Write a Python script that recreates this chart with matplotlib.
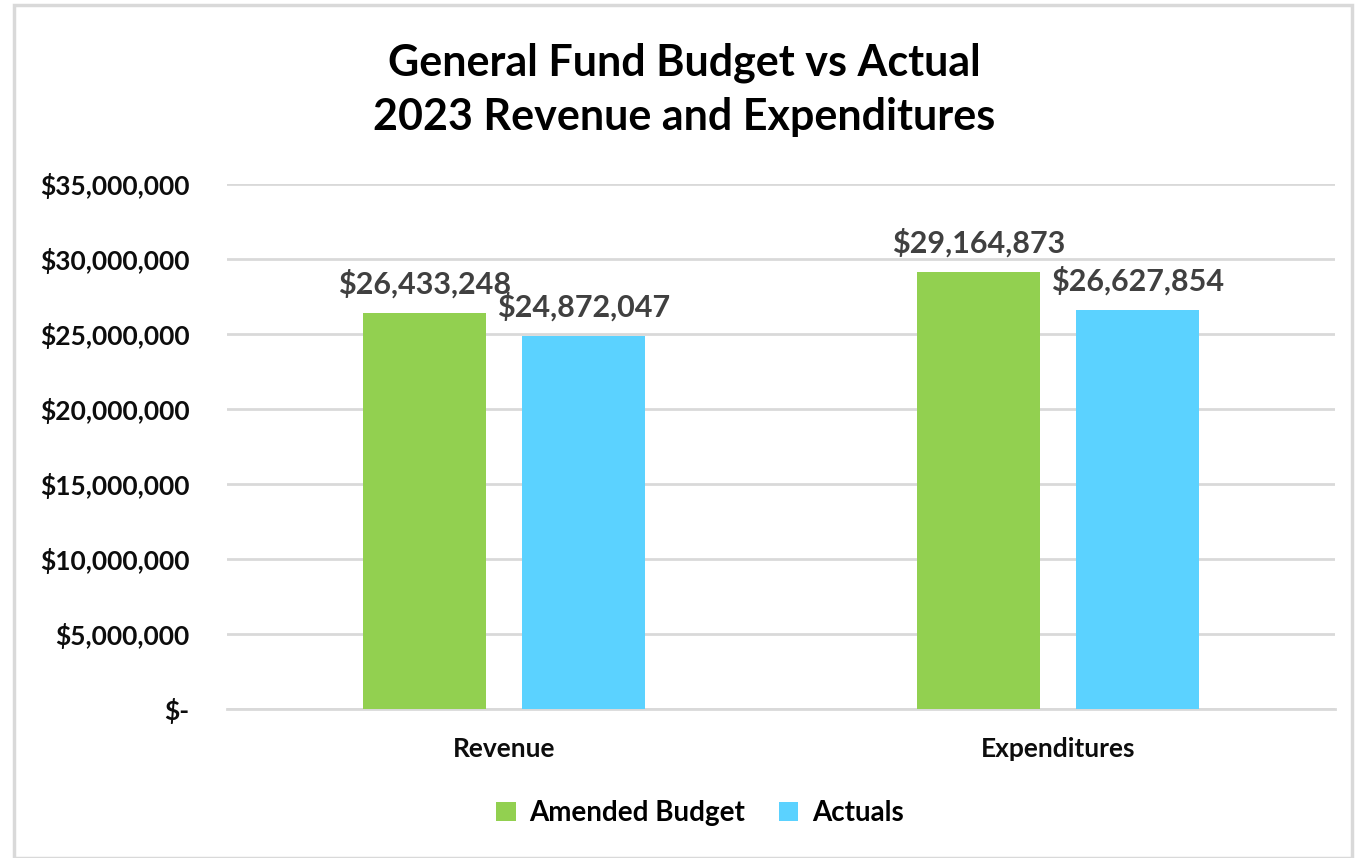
import matplotlib.pyplot as plt
import numpy as np
from matplotlib.patches import Rectangle

categories = ['Revenue', 'Expenditures']
budget = [26433248, 29164873]
actuals = [24872047, 26627854]
series_names = ['Amended Budget', 'Actuals']

plt.rcParams['font.family'] = ['Lato', 'DejaVu Sans']

fig = plt.figure(figsize=(13.68, 8.58), dpi=100)
ax = fig.add_axes([227 / 1368, 1 - 709 / 858, 1108 / 1368, 525 / 858])

# outer chart frame
fig.patches.append(Rectangle((14 / 1368, 0.0), 1338 / 1368, 1 - 5 / 858, transform=fig.transFigure,
                             fill=False, edgecolor='#d9d9d9', linewidth=2.5))

x = np.arange(len(categories))
w = 0.222
off = 0.143
b1 = ax.bar(x - off, budget, w, color='#92d050', label=series_names[0], zorder=3)
b2 = ax.bar(x + off, actuals, w, color='#5bd2ff', label=series_names[1], zorder=3)

for bars in (b1, b2):
    for rect in bars:
        h = rect.get_height()
        ax.annotate('${:,.0f}'.format(h), (rect.get_x() + rect.get_width() / 2, h),
                    xytext=(0, 10), textcoords='offset points', ha='center', va='bottom',
                    fontsize=22, fontweight='bold', color='#404040')

ax.set_xlim(-0.5, 1.5)
ax.set_ylim(0, 35000000)
ax.set_yticks(np.arange(0, 35000001, 5000000))
ax.set_yticklabels(['$-' if v == 0 else '${:,.0f}'.format(v) for v in ax.get_yticks()])
ax.set_xticks(x)
ax.set_xticklabels(categories)
ax.tick_params(axis='y', length=0, pad=27, labelsize=19)
ax.tick_params(axis='x', length=0, pad=20, labelsize=19)
for lbl in ax.get_xticklabels() + ax.get_yticklabels():
    lbl.set_fontweight('bold')
    lbl.set_color('#0d0d0d')

ax.grid(axis='y', color='#d9d9d9', linewidth=2, zorder=0)
for s in ['top', 'right', 'left']:
    ax.spines[s].set_visible(False)
ax.spines['bottom'].set_color('#d9d9d9')
ax.spines['bottom'].set_linewidth(2)

fig.text(0.5, 1 - 90 / 858, 'General Fund Budget vs Actual\n2023 Revenue and Expenditures',
         ha='center', va='center', fontsize=31, fontweight='bold', linespacing=1.42)

fig.legend(handles=[b1, b2], labels=series_names, loc='center', bbox_to_anchor=(700 / 1368, 1 - 813 / 858),
           ncol=2, frameon=False, prop={'size': 20, 'weight': 'bold'}, handlelength=0.7, handleheight=0.7,
           columnspacing=1.2, handletextpad=0.5)

fig.savefig('out.png', dpi=100)
